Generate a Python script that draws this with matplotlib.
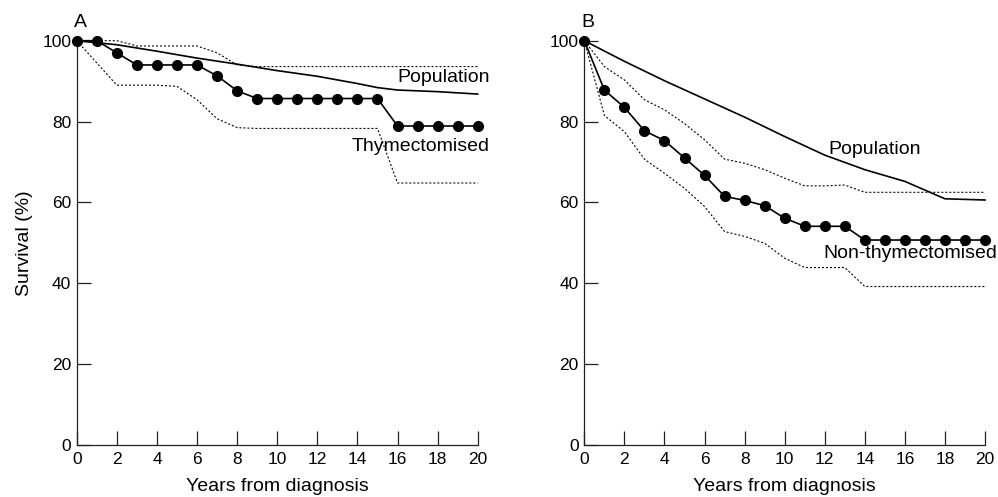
import matplotlib
matplotlib.use("Agg")
import matplotlib.pyplot as plt

plt.rcParams['font.family'] = ['Liberation Sans', 'DejaVu Sans']

years = list(range(0, 21))

# Panel A: thymectomised
thym = [100, 100, 97, 94, 94, 94, 94, 91.3, 87.6, 85.7, 85.7, 85.7, 85.7, 85.7,
        85.7, 85.7, 78.9, 78.9, 78.9, 78.9, 78.9]
thym_upper = [100, 100, 100, 98.7, 98.7, 98.7, 98.7, 97, 94, 93.6, 93.6, 93.6,
              93.6, 93.6, 93.6, 93.6, 93.6, 93.6, 93.6, 93.6, 93.6]
thym_lower = [100, 94.5, 89, 89, 89, 88.7, 85.4, 80.7, 78.5, 78.3, 78.3, 78.3,
              78.3, 78.3, 78.3, 78.3, 64.8, 64.8, 64.8, 64.8, 64.8]
pop_a_x = [0, 2, 4, 6, 8, 10, 12, 14, 15, 16, 18, 20]
pop_a = [100, 99.0, 97.4, 95.7, 94.2, 92.6, 91.2, 89.4, 88.4, 87.8, 87.4, 86.8]

# Panel B: non-thymectomised
nonthym = [100, 87.8, 83.5, 77.7, 75.3, 71.0, 66.7, 61.5, 60.5, 59.2, 56.1, 54.1,
           54.1, 54.1, 50.7, 50.7, 50.7, 50.7, 50.7, 50.7, 50.7]
nonthym_upper = [100, 93.6, 90.3, 85.4, 82.9, 79.5, 75.5, 70.7, 69.7, 68.1, 66.0,
                 64.1, 64.1, 64.3, 62.5, 62.5, 62.5, 62.5, 62.5, 62.5, 62.5]
nonthym_lower = [100, 81.5, 77.5, 70.7, 67.2, 63.5, 59.0, 52.8, 51.6, 49.9, 46.2,
                 43.9, 43.9, 43.9, 39.2, 39.2, 39.2, 39.2, 39.2, 39.2, 39.2]
pop_b_x = [0, 2, 4, 6, 8, 10, 12, 14, 16, 18, 20]
pop_b = [100, 94.9, 90.1, 85.6, 81.1, 76.3, 71.7, 68.1, 65.2, 60.9, 60.6]

fig = plt.figure(figsize=(9.98, 4.97), dpi=100)
ax_a = fig.add_axes([0.0769, 0.1046, 0.4018, 0.8135])
ax_b = fig.add_axes([0.5855, 0.1046, 0.4015, 0.8135])

LABEL_SIZE = 14
TICK_SIZE = 12.5


def style_axes(ax):
    ax.set_xlim(0, 20)
    ax.set_ylim(0, 100)
    ax.set_xticks(range(0, 21, 2))
    ax.set_yticks(range(0, 101, 20))
    for side in ('top', 'right'):
        ax.spines[side].set_visible(False)
    for side in ('left', 'bottom'):
        ax.spines[side].set_linewidth(0.9)
        ax.spines[side].set_color('#222222')
    ax.tick_params(direction='in', length=10, width=0.9, color='#222222',
                   labelsize=TICK_SIZE, pad=4)
    ax.tick_params(axis='x', pad=5)
    ax.set_xlabel('Years from diagnosis', fontsize=LABEL_SIZE, labelpad=8)


def draw_panel(ax, main, upper, lower, px, pop):
    dot = dict(color='black', lw=0.8, ls=(0, (1.8, 1.8)), clip_on=False)
    ax.plot(years, upper, **dot)
    ax.plot(years, lower, **dot)
    ax.plot(px, pop, color='black', lw=1.2, clip_on=False)
    ax.plot(years, main, color='black', lw=1.2, marker='o', markersize=7,
            clip_on=False, zorder=5)


draw_panel(ax_a, thym, thym_upper, thym_lower, pop_a_x, pop_a)
draw_panel(ax_b, nonthym, nonthym_upper, nonthym_lower, pop_b_x, pop_b)
style_axes(ax_a)
style_axes(ax_b)

ax_a.set_ylabel('Survival (%)', fontsize=LABEL_SIZE)
ax_a.yaxis.set_label_coords(-0.11, 0.5)

ax_a.text(20.6, 90.8, 'Population', fontsize=LABEL_SIZE, ha='right', va='center')
ax_a.text(20.6, 73.8, 'Thymectomised', fontsize=LABEL_SIZE, ha='right', va='center')
ax_b.text(12.2, 73.2, 'Population', fontsize=LABEL_SIZE, ha='left', va='center')
ax_b.text(20.6, 47.4, 'Non-thymectomised', fontsize=LABEL_SIZE, ha='right', va='center')

ax_a.text(0.17, 104.4, 'A', fontsize=LABEL_SIZE, ha='center', va='center')
ax_b.text(0.2, 104.4, 'B', fontsize=LABEL_SIZE, ha='center', va='center')

fig.savefig('out.png', dpi=100)
